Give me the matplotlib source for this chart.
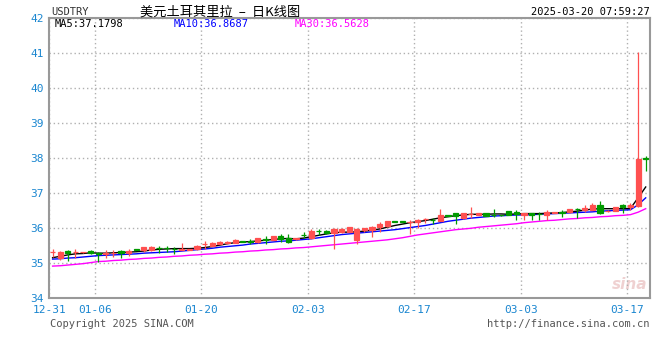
import matplotlib
matplotlib.use("Agg")
import matplotlib.pyplot as plt
import numpy as np

# daily candles, 2024-12-31 .. 2025-03-19 (one per calendar day)
opens = [35.31, 35.14, 35.35, 35.31, 35.31, 35.35, 35.29, 35.27, 35.29, 35.36,
         35.29, 35.40, 35.37, 35.39, 35.44, 35.44, 35.42, 35.39, 35.39, 35.40,
         35.54, 35.50, 35.56, 35.59, 35.58, 35.63, 35.63, 35.60, 35.68, 35.67,
         35.78, 35.73, 35.69, 35.82, 35.71, 35.93, 35.92, 35.86, 35.88, 35.90,
         35.67, 35.94, 35.95, 36.05, 36.07, 36.20, 36.20, 36.18, 36.17, 36.26,
         36.25, 36.21, 36.38, 36.43, 36.29, 36.40, 36.38, 36.43, 36.39, 36.38,
         36.49, 36.47, 36.38, 36.43, 36.42, 36.38, 36.45, 36.46, 36.46, 36.55,
         36.52, 36.52, 36.67, 36.49, 36.50, 36.66, 36.62, 36.65, 38.02]
highs = [35.40, 35.36, 35.38, 35.40, 35.33, 35.38, 35.31, 35.37, 35.37, 35.38,
         35.40, 35.41, 35.48, 35.50, 35.50, 35.50, 35.48, 35.57, 35.41, 35.52,
         35.63, 35.61, 35.64, 35.65, 35.70, 35.64, 35.69, 35.73, 35.77, 35.79,
         35.83, 35.83, 35.71, 35.90, 35.97, 35.99, 35.94, 36.00, 36.00, 36.05,
         36.02, 36.02, 36.07, 36.17, 36.22, 36.20, 36.20, 36.25, 36.26, 36.29,
         36.29, 36.54, 36.39, 36.44, 36.44, 36.62, 36.44, 36.44, 36.54, 36.39,
         36.50, 36.52, 36.45, 36.45, 36.48, 36.52, 36.47, 36.52, 36.55, 36.57,
         36.66, 36.71, 36.79, 36.51, 36.62, 36.69, 36.71, 41.04, 38.06]
lows = [35.19, 35.10, 35.06, 35.16, 35.30, 35.26, 35.05, 35.14, 35.17, 35.14,
        35.22, 35.37, 35.32, 35.35, 35.30, 35.32, 35.26, 35.38, 35.38, 35.39,
        35.40, 35.49, 35.55, 35.54, 35.57, 35.61, 35.54, 35.59, 35.55, 35.66,
        35.60, 35.58, 35.68, 35.71, 35.70, 35.81, 35.84, 35.41, 35.86, 35.89,
        35.54, 35.88, 35.76, 35.88, 36.05, 36.17, 36.17, 35.83, 36.02, 36.14,
        36.12, 36.20, 36.35, 36.12, 36.27, 36.29, 36.37, 36.34, 36.33, 36.36,
        36.37, 36.25, 36.24, 36.24, 36.25, 36.25, 36.44, 36.33, 36.45, 36.28,
        36.48, 36.51, 36.42, 36.47, 36.49, 36.45, 36.52, 36.62, 37.65]
closes = [35.32, 35.33, 35.30, 35.32, 35.32, 35.30, 35.26, 35.28, 35.30, 35.29,
          35.36, 35.38, 35.46, 35.47, 35.43, 35.43, 35.41, 35.40, 35.40, 35.50,
          35.55, 35.59, 35.62, 35.60, 35.66, 35.62, 35.62, 35.72, 35.67, 35.78,
          35.69, 35.62, 35.71, 35.81, 35.93, 35.92, 35.86, 35.98, 35.97, 36.03,
          35.98, 36.00, 36.05, 36.12, 36.20, 36.18, 36.18, 36.19, 36.24, 36.27,
          36.24, 36.38, 36.36, 36.35, 36.43, 36.41, 36.43, 36.35, 36.38, 36.37,
          36.38, 36.40, 36.44, 36.38, 36.41, 36.47, 36.46, 36.45, 36.54, 36.54,
          36.59, 36.68, 36.43, 36.50, 36.60, 36.62, 36.66, 37.98, 37.97]

ma5 = [35.16, 35.20, 35.24, 35.27, 35.28, 35.30, 35.29, 35.29, 35.30, 35.31,
       35.32, 35.33, 35.35, 35.38, 35.40, 35.41, 35.42, 35.42, 35.42, 35.43,
       35.45, 35.48, 35.52, 35.56, 35.59, 35.61, 35.62, 35.64, 35.66, 35.68,
       35.70, 35.71, 35.70, 35.72, 35.76, 35.80, 35.84, 35.87, 35.89, 35.89,
       35.90, 35.92, 35.95, 35.98, 36.03, 36.08, 36.12, 36.16, 36.19, 36.22,
       36.26, 36.30, 36.33, 36.36, 36.38, 36.40, 36.40, 36.40, 36.41, 36.41,
       36.40, 36.41, 36.42, 36.42, 36.42, 36.43, 36.44, 36.45, 36.47, 36.49,
       36.52, 36.55, 36.56, 36.56, 36.56, 36.56, 36.57, 36.87, 37.18]
ma10 = [35.12, 35.13, 35.15, 35.16, 35.18, 35.20, 35.22, 35.23, 35.24, 35.25,
        35.26, 35.27, 35.29, 35.30, 35.31, 35.32, 35.33, 35.35, 35.37, 35.39,
        35.41, 35.43, 35.46, 35.48, 35.50, 35.52, 35.55, 35.57, 35.59, 35.61,
        35.63, 35.64, 35.66, 35.68, 35.70, 35.73, 35.76, 35.79, 35.82, 35.84,
        35.86, 35.88, 35.90, 35.92, 35.94, 35.96, 35.99, 36.02, 36.05, 36.08,
        36.12, 36.16, 36.20, 36.23, 36.26, 36.29, 36.31, 36.33, 36.35, 36.36,
        36.37, 36.38, 36.38, 36.39, 36.40, 36.41, 36.42, 36.43, 36.44, 36.45,
        36.46, 36.47, 36.49, 36.50, 36.51, 36.52, 36.53, 36.67, 36.87]
ma30 = [34.92, 34.93, 34.95, 34.97, 34.99, 35.02, 35.05, 35.06, 35.08, 35.09,
        35.11, 35.12, 35.14, 35.15, 35.17, 35.18, 35.20, 35.21, 35.23, 35.24,
        35.26, 35.27, 35.29, 35.30, 35.32, 35.33, 35.35, 35.36, 35.38, 35.39,
        35.41, 35.42, 35.44, 35.45, 35.47, 35.49, 35.51, 35.53, 35.55, 35.57,
        35.59, 35.61, 35.63, 35.65, 35.67, 35.70, 35.73, 35.77, 35.81, 35.84,
        35.87, 35.90, 35.93, 35.96, 35.98, 36.00, 36.03, 36.05, 36.07, 36.09,
        36.11, 36.13, 36.16, 36.18, 36.20, 36.22, 36.23, 36.25, 36.27, 36.28,
        36.30, 36.31, 36.33, 36.34, 36.36, 36.37, 36.39, 36.46, 36.56]

date_labels = ["12-31", "01-06", "01-20", "02-03", "02-17", "03-03", "03-17"]
date_index = [0, 6, 20, 34, 48, 62, 76]
y_ticks = [34, 35, 36, 37, 38, 39, 40, 41, 42]

RED = "#ff5050"
GREEN = "#009a00"
LABEL_BLUE = "#1a86d0"
mono = "DejaVu Sans Mono"

fig = plt.figure(figsize=(6.6, 3.6), dpi=100)
W, H = 660.0, 360.0
ax = fig.add_axes([49.4 / W, 61.7 / H, 600.1 / W, 280.0 / H])

n = len(closes)
x = np.arange(n) + 0.42
o = np.array(opens)
c = np.array(closes)
up = c >= o
cols = [RED if u else GREEN for u in up]

# moving averages under the candles
ax.plot(x, ma30, color="#ff00ff", linewidth=1.0, zorder=3)
ax.plot(x, ma10, color="#0000ff", linewidth=1.0, zorder=3)
ax.plot(x, ma5, color="#000000", linewidth=1.0, zorder=3)

# wicks then bodies
ax.vlines(x, lows, highs, colors=cols, linewidth=0.9, zorder=4)
ax.bar(x, np.abs(c - o), bottom=np.minimum(o, c), width=0.68,
       color=cols, edgecolor=cols, linewidth=0.9, zorder=5)

ax.set_xlim(0, 78.92)
ax.set_ylim(34, 42)
ax.set_xticks(date_index)
ax.set_xticklabels(date_labels)
ax.set_yticks(y_ticks)
ax.set_yticklabels([str(v) for v in y_ticks])
ax.tick_params(length=0, colors=LABEL_BLUE, labelsize=8)
ax.tick_params(axis="x", pad=5)
ax.tick_params(axis="y", pad=4)
for lab in ax.get_xticklabels() + ax.get_yticklabels():
    lab.set_family(mono)

ax.grid(True, color="#b0b0b0", linestyle=(0, (1, 2)), linewidth=1.0, zorder=0)
for s in ax.spines.values():
    s.set_color("#999999")
    s.set_linewidth(1.5)

# header and footer text
fig.text(51 / W, 1 - 12 / H, "USDTRY", family=mono, fontsize=7.5, color="#333333", va="center")
fig.text(140 / W, 1 - 12 / H, "美元土耳其里拉  –  日K线图",
         family=["Noto Sans CJK SC", "DejaVu Sans"], fontsize=9.5, color="#000000", va="center")
fig.text(650 / W, 1 - 12 / H, "2025-03-20 07:59:27", family=mono, fontsize=7.5,
         color="#000000", va="center", ha="right")
fig.text(55 / W, 1 - 24 / H, "MA5:37.1798", family=mono, fontsize=7.5, color="#000000", va="center")
fig.text(174 / W, 1 - 24 / H, "MA10:36.8687", family=mono, fontsize=7.5, color="#0000ff", va="center")
fig.text(295 / W, 1 - 24 / H, "MA30:36.5628", family=mono, fontsize=7.5, color="#ff00ff", va="center")
fig.text(50 / W, 1 - 324 / H, "Copyright 2025 SINA.COM", family=mono, fontsize=7.5,
         color="#555555", va="center")
fig.text(650 / W, 1 - 324 / H, "http://finance.sina.com.cn", family=mono, fontsize=7.5,
         color="#555555", va="center", ha="right")

# faint sina watermark
ax.text(0.966, 0.05, "sina", transform=ax.transAxes, fontsize=11, fontweight="bold",
        fontstyle="italic", color="#ecc6c6", alpha=0.8, ha="center", va="center", zorder=1)

fig.savefig("out.png", dpi=100)
